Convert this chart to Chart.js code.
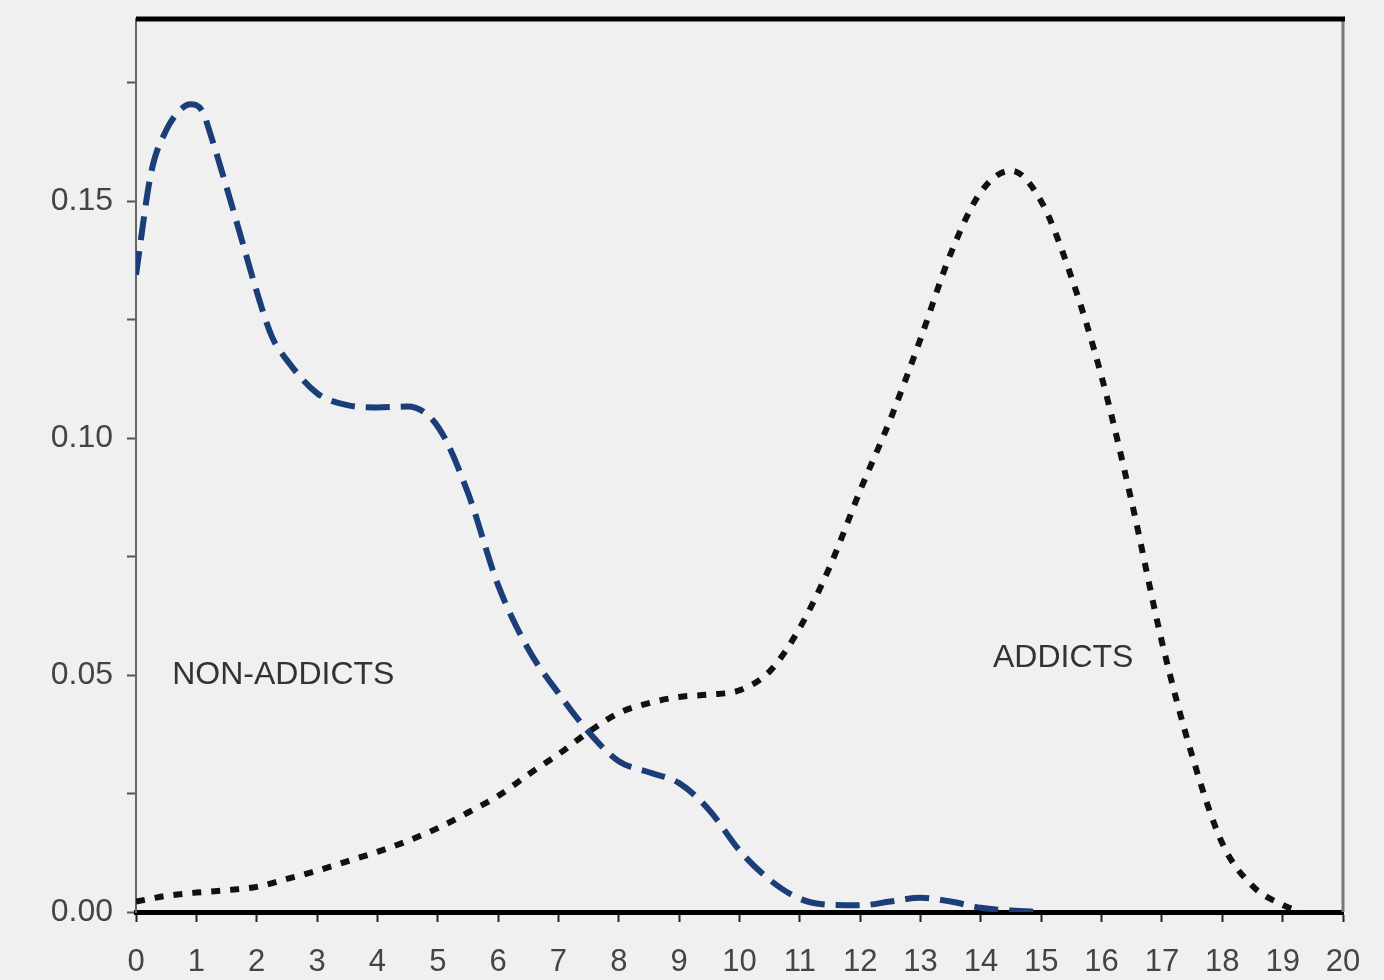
<!DOCTYPE html>
<html>
<head>
<meta charset="utf-8">
<script src="https://cdn.jsdelivr.net/npm/chart.js@4"></script>
<style>
  html, body { margin: 0; padding: 0; background: #f0f0f0; }
  #wrap { width: 1384px; height: 980px; }
</style>
</head>
<body>
<div id="wrap"><canvas id="chart" width="1384" height="980"></canvas></div>
<script>
// values
const nonAddictsX = [0, 0.25, 0.5, 0.75, 0.9, 1.1, 1.25, 1.5, 1.75, 2, 2.25, 2.5, 3, 3.5, 4, 4.5, 5, 5.5, 6, 6.5, 7, 7.5, 8, 8.5, 9, 9.5, 10, 10.5, 11, 11.5, 12, 12.5, 13, 13.5, 14, 14.5, 15];
const nonAddictsY = [0.1345, 0.156, 0.165, 0.1695, 0.1705, 0.169, 0.1635, 0.153, 0.142, 0.131, 0.1215, 0.1165, 0.1095, 0.107, 0.1065, 0.1067, 0.1025, 0.0885, 0.069, 0.0555, 0.0462, 0.038, 0.0318, 0.0295, 0.0272, 0.0215, 0.013, 0.0068, 0.0028, 0.0015, 0.0014, 0.0022, 0.003, 0.0022, 0.0009, 0.0003, 0];

const addictsX = [0, 0.5, 1, 1.5, 2, 2.5, 3, 3.5, 4, 4.5, 5, 5.5, 6, 6.5, 7, 7.5, 8, 8.5, 9, 9.5, 10, 10.5, 11, 11.5, 12, 12.5, 13, 13.5, 14, 14.5, 15, 15.5, 16, 16.5, 17, 17.5, 18, 18.5, 19, 19.3];
const addictsY = [0.0022, 0.0034, 0.0041, 0.0046, 0.0053, 0.007, 0.0087, 0.0107, 0.0127, 0.015, 0.0177, 0.021, 0.0245, 0.029, 0.0333, 0.038, 0.042, 0.0441, 0.0454, 0.0459, 0.0468, 0.0508, 0.060, 0.073, 0.089, 0.104, 0.121, 0.139, 0.152, 0.1565, 0.150, 0.134, 0.113, 0.0865, 0.057, 0.033, 0.0145, 0.0055, 0.0015, 0];

const xTickValues = [0, 1, 2, 3, 4, 5, 6, 7, 8, 9, 10, 11, 12, 13, 14, 15, 16, 17, 18, 19, 20];
const yTickLabels = ["0.00", "0.05", "0.10", "0.15"];

const toPoints = (xs, ys) => xs.map((x, i) => ({ x: x, y: ys[i] }));

const framePlugin = {
  id: "frame",
  beforeDraw(chart) {
    const ctx = chart.ctx;
    ctx.save();
    ctx.fillStyle = "#f0f0f0";
    ctx.fillRect(0, 0, chart.width, chart.height);
    ctx.restore();
  },
  afterDraw(chart) {
    const { ctx, chartArea: a, scales } = chart;
    ctx.save();
    // right edge
    ctx.strokeStyle = "#777";
    ctx.lineWidth = 3;
    ctx.beginPath();
    ctx.moveTo(a.right, a.top);
    ctx.lineTo(a.right, a.bottom);
    ctx.stroke();
    // top edge
    ctx.strokeStyle = "#000";
    ctx.lineWidth = 5;
    ctx.beginPath();
    ctx.moveTo(a.left, a.top);
    ctx.lineTo(a.right + 2, a.top);
    ctx.stroke();
    // group labels
    ctx.fillStyle = "#333";
    ctx.font = "32px 'Liberation Sans', Arial, sans-serif";
    ctx.textBaseline = "middle";
    ctx.textAlign = "left";
    ctx.fillText("NON-ADDICTS", scales.x.getPixelForValue(0.6), scales.y.getPixelForValue(0.05));
    ctx.fillText("ADDICTS", scales.x.getPixelForValue(14.2), scales.y.getPixelForValue(0.0536));
    ctx.restore();
  }
};

new Chart(document.getElementById("chart"), {
  type: "line",
  data: {
    datasets: [
      {
        label: "NON-ADDICTS",
        data: toPoints(nonAddictsX, nonAddictsY),
        borderColor: "#1b3d78",
        borderWidth: 6,
        borderDash: [24, 11],
        pointRadius: 0,
        tension: 0.4,
        cubicInterpolationMode: "monotone",
        fill: false
      },
      {
        label: "ADDICTS",
        data: toPoints(addictsX, addictsY),
        borderColor: "#111",
        borderWidth: 6,
        borderDash: [9, 10],
        pointRadius: 0,
        tension: 0.4,
        cubicInterpolationMode: "monotone",
        fill: false
      }
    ]
  },
  options: {
    responsive: false,
    animation: false,
    layout: { padding: { left: 0, right: 41, top: 19, bottom: 0 } },
    plugins: {
      legend: { display: false },
      tooltip: { enabled: false }
    },
    scales: {
      x: {
        type: "linear",
        min: 0,
        max: 20,
        afterFit(scale) { scale.height = 68; scale.paddingLeft = 0; scale.paddingRight = 0; },
        afterBuildTicks(scale) { scale.ticks = xTickValues.map(v => ({ value: v })); },
        border: { display: true, color: "#000", width: 5 },
        grid: { drawOnChartArea: false, drawTicks: true, tickLength: 10, tickWidth: 2, tickColor: "#222" },
        ticks: {
          color: "#444",
          padding: 22,
          maxRotation: 0,
          autoSkip: false,
          font: { family: "'Liberation Sans', Arial, sans-serif", size: 31 },
          callback: v => String(v)
        }
      },
      y: {
        type: "linear",
        min: 0,
        max: 0.1885,
        afterFit(scale) { scale.width = 136; scale.paddingTop = 0; scale.paddingBottom = 0; },
        border: { display: true, color: "#666", width: 2 },
        grid: { drawOnChartArea: false, drawTicks: true, tickLength: 9, tickWidth: 2, tickColor: "#555" },
        ticks: {
          stepSize: 0.025,
          includeBounds: false,
          color: "#444",
          padding: 14,
          font: { family: "'Liberation Sans', Arial, sans-serif", size: 32 },
          callback: v => {
            const k = Math.round(v / 0.05);
            return Math.abs(v - k * 0.05) < 1e-6 ? yTickLabels[k] : "";
          }
        }
      }
    }
  },
  plugins: [framePlugin]
});
</script>
</body>
</html>
